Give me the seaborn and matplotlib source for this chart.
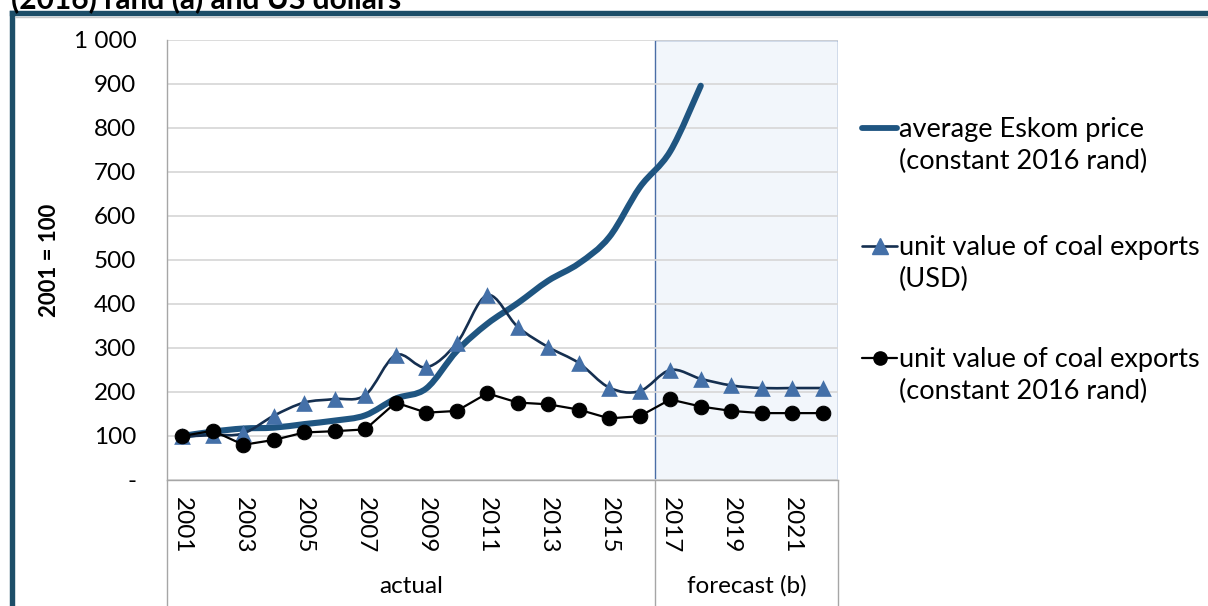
import numpy as np
import pandas as pd
import matplotlib
matplotlib.use("Agg")
import matplotlib.pyplot as plt
from matplotlib.path import Path
from matplotlib.patches import PathPatch, Rectangle
from matplotlib.lines import Line2D
import seaborn as sns

# ---------------- data ----------------
years = list(range(2001, 2023))
eskom_years = list(range(2001, 2019))
eskom_price = [100, 110, 117, 119, 127, 135, 147, 185, 208, 293, 355, 402, 453, 492, 552, 665, 747, 896]
coal_usd = [99, 102, 106, 146, 176, 184, 193, 284, 256, 311, 420, 348, 302, 266, 210, 202, 250, 230, 215, 209, 209, 209]
coal_rand = [100, 112, 80, 91, 108, 111, 115, 176, 153, 157, 197, 176, 172, 160, 140, 145, 183, 167, 157, 152, 152, 152]
yticks = [0, 100, 200, 300, 400, 500, 600, 700, 800, 900, 1000]
ytick_labels = ["-", "100", "200", "300", "400", "500", "600", "700", "800", "900", "1 000"]
labelled_years = [y for y in years if y % 2 == 1]
group_labels = ["actual", "forecast (b)"]
forecast_start = 2017
legend_labels = ["average Eskom price\n(constant 2016 rand)",
                 "unit value of coal exports\n(USD)",
                 "unit value of coal exports\n(constant 2016 rand)"]
title_text = "(2016) rand (a) and US dollars"
ylabel_text = "2001 = 100"

# ---------------- style ----------------
sns.set_style("white")
plt.rcParams['font.family'] = ['Lato', 'DejaVu Sans']

C_ESKOM = "#1F5581"
C_TRI = "#4470A8"
C_TRI_LINE = "#152F50"
C_FRAME = "#1D4E68"
C_GRID = "#D9D9D9"
C_AXIS = "#A6A6A6"
FS = 17.5
FS_LEG = 19.5

W, H = 1208, 606
fig = plt.figure(figsize=(W / 100, H / 100), dpi=100)
fig.patch.set_facecolor("white")

def fx(x):
    return x / W

def fy(y):
    return 1 - y / H

ax = fig.add_axes([fx(167), fy(480), (838 - 167) / W, 440 / H])

pos = {y: i for i, y in enumerate(years)}
x_all = np.array([pos[y] for y in years], dtype=float)
x_esk = np.array([pos[y] for y in eskom_years], dtype=float)


def smooth_patch(xs, ys, **kw):
    """Excel-like smoothed line drawn as cubic Bezier segments through the data points."""
    pts = np.column_stack([xs, ys]).astype(float)
    n = len(pts)
    verts = [pts[0]]
    codes = [Path.MOVETO]
    for i in range(n - 1):
        p0 = pts[i - 1] if i > 0 else pts[i]
        p1 = pts[i]
        p2 = pts[i + 1]
        p3 = pts[i + 2] if i + 2 < n else pts[i + 1]
        c1 = p1 + (p2 - p0) / 6.0
        c2 = p2 - (p3 - p1) / 6.0
        verts += [c1, c2, p2]
        codes += [Path.CURVE4] * 3
    return PathPatch(Path(verts, codes), fill=False, **kw)


# forecast shading
fs = pos[forecast_start] - 0.5
ax.add_patch(Rectangle((fs, 0), len(years) - 0.5 - fs, 1000, facecolor="#F2F6FB",
                       edgecolor="#4A6EA6", linewidth=1.0, zorder=0.4))

# Eskom price (smooth thick line)
ax.add_patch(smooth_patch(x_esk, eskom_price, edgecolor=C_ESKOM, linewidth=4.4,
                          capstyle="round", joinstyle="round", zorder=3))

# coal USD (smooth line + triangles)
ax.add_patch(smooth_patch(x_all, coal_usd, edgecolor=C_TRI_LINE, linewidth=1.9, zorder=4))
df_usd = pd.DataFrame({"x": x_all, "v": coal_usd})
sns.scatterplot(data=df_usd, x="x", y="v", marker="^", s=12 ** 2, color=C_TRI,
                edgecolor=C_TRI, linewidth=0, ax=ax, zorder=5)

# coal constant rand (straight line + dots)
df_rand = pd.DataFrame({"x": x_all, "v": coal_rand})
sns.lineplot(data=df_rand, x="x", y="v", color="black", linewidth=1.6, marker="o",
             markersize=10.5, markeredgecolor="black", markerfacecolor="black",
             ax=ax, zorder=6)

# axes formatting
ax.set_xlim(-0.5, len(years) - 0.5)
ax.set_ylim(0, 1000)
ax.set_yticks(yticks)
ax.set_yticklabels(ytick_labels)
ax.set_xticks([pos[y] for y in labelled_years])
ax.set_xticklabels([str(y) for y in labelled_years], rotation=-90, va="top", ha="center")
ax.set_xticks(np.arange(-0.5, len(years), 1.0), minor=True)
ax.tick_params(axis="x", which="major", length=0, pad=12, labelsize=FS, labelcolor="black")
ax.tick_params(axis="x", which="minor", length=50.5, width=1.0, color=C_AXIS, direction="out")
ax.tick_params(axis="y", which="major", length=5, width=1.0, color=C_AXIS, pad=17,
               labelsize=FS, labelcolor="black")
ax.set_xlabel("")
ax.set_ylabel("")
ax.grid(axis="y", color=C_GRID, linewidth=1.3)
ax.grid(axis="x", visible=False)
ax.set_axisbelow(True)
for s in ["top", "right"]:
    ax.spines[s].set_visible(False)
for s in ["left", "bottom"]:
    ax.spines[s].set_color(C_AXIS)
    ax.spines[s].set_linewidth(1.0)
ax.patch.set_alpha(0)

# long group separators
trans = ax.get_xaxis_transform()
for xb in [-0.5, fs, len(years) - 0.5]:
    ax.plot([xb, xb], [0, -0.32], color=C_AXIS, linewidth=1.0, transform=trans,
            clip_on=False, zorder=1)
ax.text((-0.5 + fs) / 2, -0.241, group_labels[0], transform=trans, ha="center",
        va="center", fontsize=FS, color="black")
ax.text((fs + len(years) - 0.5) / 2, -0.241, group_labels[1], transform=trans,
        ha="center", va="center", fontsize=FS, color="black")

# y label
fig.text(fx(50), fy(260), ylabel_text, rotation=90, ha="center", va="center",
         fontsize=16, fontweight="bold", color="black")

# legend (manual, handle aligned with first line of each label)
leg_y = [128, 246, 358]
hx0, hx1 = 862, 897
styles = [
    dict(color=C_ESKOM, linewidth=4.2, solid_capstyle="round", marker=None),
    dict(color=C_TRI_LINE, linewidth=1.9, marker="^", markersize=11, markerfacecolor=C_TRI,
         markeredgecolor=C_TRI),
    dict(color="black", linewidth=1.6, marker="o", markersize=9.5, markerfacecolor="black",
         markeredgecolor="black"),
]
for yy, lab, st in zip(leg_y, legend_labels, styles):
    ln = Line2D([fx(hx0), fx((hx0 + hx1) / 2), fx(hx1)], [fy(yy)] * 3,
                transform=fig.transFigure, markevery=[1], **st)
    fig.add_artist(ln)
    fig.text(fx(899), fy(yy + 17.5), lab, ha="left", va="center", fontsize=FS_LEG,
             color="black", linespacing=1.35, transform=fig.transFigure)

# frame
fig.add_artist(Line2D([fx(12), fx(W + 5)], [fy(13.2), fy(13.2)], color=C_FRAME,
                      linewidth=3.9, transform=fig.transFigure, solid_capstyle="projecting"))
fig.add_artist(Line2D([fx(12), fx(12)], [fy(13.2), fy(H + 5)], color=C_FRAME,
                      linewidth=3.9, transform=fig.transFigure, solid_capstyle="projecting"))
fig.add_artist(Line2D([fx(15), fx(W + 5)], [fy(16.6), fy(16.6)], color="#C8C8C8",
                      linewidth=1.0, transform=fig.transFigure))

# clipped title
fig.text(fx(11), fy(8), title_text, ha="left", va="baseline", fontsize=21.5,
         fontweight="bold", color="black")

fig.savefig("out.png", dpi=100)
